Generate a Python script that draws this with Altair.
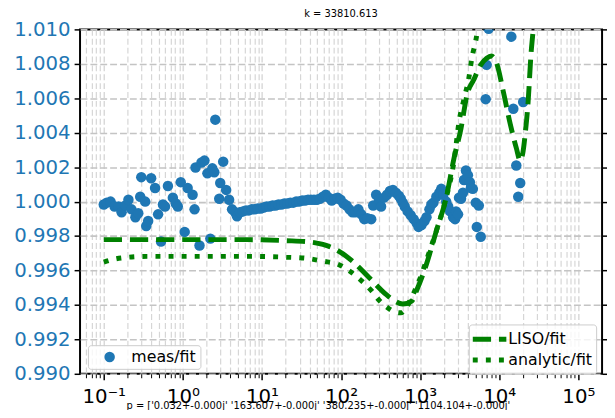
import json
import altair as alt
import pandas as pd

# ---------------- data ----------------
SCATTER_X = [0.1, 0.109, 0.122, 0.137, 0.154, 0.168, 0.188, 0.205, 0.224, 0.251,
             0.273, 0.289, 0.298, 0.334, 0.344, 0.364, 0.397, 0.445, 0.486, 0.529,
             0.560, 0.594, 0.647, 0.747, 0.814, 0.863, 0.940, 1.054, 1.149, 1.327,
             1.405, 1.446, 1.623, 1.719, 1.874, 2.042, 2.226, 2.357, 2.497, 2.570,
             2.883, 2.967, 3.234, 3.525, 3.842, 4.188, 4.565, 4.835,
             5.270, 5.744, 6.262, 6.826, 7.439, 8.110, 8.840, 9.634, 10.50, 11.45,
             12.48, 13.60, 14.83, 16.16, 17.62, 19.20, 20.93, 22.81, 24.86, 27.10,
             29.54, 32.20, 35.10, 38.26, 41.70, 45.46, 49.55, 54.01, 58.87, 64.17,
             69.95, 76.24, 83.10, 90.58, 98.72, 107.6, 117.3, 127.9, 139.4, 151.9,
             165.6, 180.5, 196.8, 214.5, 240.6, 254.8, 277.7, 302.7, 320.6, 349.5,
             380.9, 415.3, 452.6, 493.3, 537.8, 569.4, 603.1, 638.9, 696.3, 759.2,
             827.6, 902.0, 955.0, 1041, 1135, 1202, 1310, 1388, 1470, 1602,
             1747, 1849, 1959, 2135, 2261, 2395, 2611, 2765, 2846, 3014,
             3102, 3285, 3479, 3581, 3793, 4017, 4255, 4379, 4638, 5055,
             5203, 5510, 5836, 6739, 6934, 7344, 14220, 15060, 16420, 17390,
             18420, 20070]
SCATTER_Y = [0.99983, 0.99994, 1.00000, 0.99972, 0.99972, 0.99938, 0.99977, 1.00011, 0.99955, 0.99909,
             0.99932, 1.00028, 1.00142, 1.00000, 0.99858, 0.99887, 1.00136, 1.00079, 0.99926, 0.99768,
             0.99983, 0.99972, 1.00091, 1.00023, 0.99989, 0.99972, 1.00113, 0.99824, 1.00079, 1.00040,
             0.99955, 1.00198, 0.99745, 1.00227, 1.00238, 1.00164, 0.99785, 1.00193, 1.00170, 1.00476,
             1.00017, 1.00108, 1.00232, 1.00068, 1.00011, 0.99955, 0.99938, 0.99915,
             0.99938, 0.99943, 0.99949, 0.99949, 0.99955, 0.99955, 0.99960, 0.99960, 0.99966, 0.99972,
             0.99972, 0.99977, 0.99977, 0.99983, 0.99983, 0.99989, 0.99989, 0.99994, 0.99994, 1.00000,
             1.00000, 1.00006, 1.00006, 1.00011, 1.00011, 1.00011, 1.00011, 1.00017, 1.00028, 1.00040,
             1.00023, 1.00006, 1.00017, 1.00023, 1.00011, 0.99989, 0.99977, 0.99955, 0.99938, 0.99938,
             0.99955, 0.99926, 0.99898, 0.99904, 0.99898, 0.99977, 1.00040, 1.00011, 0.99972, 1.00023,
             1.00040, 1.00062, 1.00068, 1.00051, 1.00034, 1.00017, 0.99994, 0.99972, 0.99943, 0.99921,
             0.99898, 0.99875, 0.99853, 0.99864, 0.99887, 0.99909, 0.99955, 0.99983, 0.99994, 1.00028,
             1.00051, 1.00074, 1.00040, 1.00000, 0.99972, 0.99943, 0.99909, 0.99898, 0.99943, 0.99926,
             1.00023, 1.00017, 1.00051, 1.00125, 1.00181, 1.00153, 1.00113, 1.00079, 1.00074, 0.99994,
             0.99853, 0.99977, 0.99796, 1.00595, 1.00794, 1.01004, 1.00958, 1.00539, 1.00210, 1.00028,
             1.00108, 1.00578]

LISO_X = [0.1, 0.364, 1.532, 6.444, 20.33, 36.12, 58.87, 85.53, 139.4, 227.2,
          370.2, 479.3, 603.1, 781.3, 902.0, 1202, 1602, 2135, 2687, 3285,
          3904, 4773, 5836, 6934, 8007, 9241, 11300, 13820, 16420, 18420,
          20070, 21260, 23170, 25260, 26750, 29150]
LISO_Y = [0.99779, 0.99779, 0.99779, 0.99779, 0.99773, 0.99768, 0.99751, 0.99722, 0.99654, 0.99558,
          0.99461, 0.99422, 0.99405, 0.99422, 0.99484, 0.99637, 0.99830, 1.00023, 1.00255, 1.00425,
          1.00618, 1.00709, 1.00794, 1.00833, 1.00845, 1.00805, 1.00635, 1.00448, 1.00312, 1.00238,
          1.00295, 1.00391, 1.00578, 1.00862, 1.00992, 1.01259]

ANALYTIC_X = [0.1, 0.1333, 0.205, 0.364, 1.532, 6.444, 20.33, 36.12, 58.87, 90.58,
              127.9, 180.5, 240.6, 302.7, 392.0, 479.3, 569.4, 676.6, 804.1, 983.1,
              1202, 1602, 2135, 2687, 3102, 3581, 4133, 4506, 5055, 5670]
ANALYTIC_Y = [0.99648, 0.99665, 0.99677, 0.99682, 0.99682, 0.99682, 0.99677, 0.99671, 0.99654, 0.99637,
              0.99597, 0.99541, 0.99484, 0.99427, 0.99382, 0.99359, 0.99354, 0.99388, 0.99456, 0.99546,
              0.99660, 0.99830, 1.00023, 1.00238, 1.00464, 1.00595, 1.00720, 1.00833, 1.00936, 1.01077]

X_TICKS = [0.1, 1, 10, 100, 1000, 10000, 100000]
X_TICK_LABELS = ["10\u207b\u00b9", "10\u2070", "10\u00b9", "10\u00b2", "10\u00b3", "10\u2074", "10\u2075"]
MINOR_MANTISSA = [2, 3, 4, 5, 6, 7, 8, 9]
MINOR_DECADES = [0.01, 0.1, 1, 10, 100, 1000, 10000, 100000]
Y_TICKS = [0.990, 0.992, 0.994, 0.996, 0.998, 1.000, 1.002, 1.004, 1.006, 1.008, 1.010]

TITLE = "k = 33810.613"
P_LINES = ["p = ['0.032+-0.000j' '163.607+-0.000j' '380.235+-0.000j' '1104.104+-0.000j'",
           "'1779.746+-2576.944j' '1779.746+2576.944j' '6897.589+-0.000j']"]

SERIES_MEAS = "meas/fit"
SERIES_LINES = ["LISO/fit", "analytic/fit"]

# ---------------- tables ----------------
sdf = pd.DataFrame({"x": SCATTER_X, "y": SCATTER_Y, "series": SERIES_MEAS})
ldf = pd.concat([
    pd.DataFrame({"x": LISO_X, "y": LISO_Y, "series": SERIES_LINES[0]}),
    pd.DataFrame({"x": ANALYTIC_X, "y": ANALYTIC_Y, "series": SERIES_LINES[1]}),
])

minor_ticks = [m * d for d in MINOR_DECADES for m in MINOR_MANTISSA if 0.05 <= m * d <= 2.0e5]

FONT = "DejaVu Sans"
xscale = alt.Scale(type="log", domain=[0.0501, 199526], nice=False)
yscale = alt.Scale(domain=[0.99, 1.01], nice=False, zero=False)
label_expr = json.dumps(X_TICK_LABELS, ensure_ascii=False) + "[round(log(datum.value)/LN10)+1]"

GRID_COLOR = "#c4c4c4"

scatter = alt.Chart(sdf).mark_circle(size=113, opacity=1, clip=True).encode(
    x=alt.X("x:Q", scale=xscale, axis=alt.Axis(
        orient="bottom", values=minor_ticks, labels=False, tickSize=4, tickWidth=1, grid=True,
        gridDash=[6, 3], gridColor="#d6d6d6", gridWidth=1.2, domain=False, title=None)),
    y=alt.Y("y:Q", scale=yscale, axis=alt.Axis(
        orient="right", values=Y_TICKS, labels=False, tickSize=6, grid=False,
        domain=False, title=None)),
    color=alt.Color("series:N", scale=alt.Scale(domain=[SERIES_MEAS], range=["#1f77b4"]),
                    legend=alt.Legend(
                        title=None, orient="none", legendX=8, legendY=320,
                        symbolType="circle", symbolSize=113, symbolStrokeWidth=0,
                        symbolOffset=10, labelOffset=14,
                        labelFontSize=16, labelFont=FONT, labelColor="black",
                        fillColor="rgba(255,255,255,0.8)", strokeColor="#cccccc",
                        cornerRadius=3, padding=4)),
)

lines = alt.Chart(ldf).mark_line(strokeWidth=5, color="green", clip=True,
                                 interpolate="monotone", strokeCap="butt").encode(
    x=alt.X("x:Q", scale=xscale, axis=alt.Axis(
        orient="bottom", values=X_TICKS, labelExpr=label_expr, labelFontSize=20, labelFont=FONT,
        labelColor="black", labelPadding=7, tickSize=6, grid=True,
        gridDash=[6, 3], gridColor="#d0d0d0", gridWidth=1.2, domain=False,
        title=P_LINES, titleFont=FONT, titleFontSize=10, titleFontWeight="normal",
        titleColor="black", titleX=241, titleY=35, titleAlign="center",
        titleBaseline="alphabetic", titleLineHeight=13)),
    y=alt.Y("y:Q", scale=yscale, axis=alt.Axis(
        orient="left", values=Y_TICKS, format=".3f", labelFontSize=20, labelFont=FONT,
        labelColor="#1f77b4", labelPadding=4, tickSize=6, grid=True,
        gridDash=[7, 3], gridColor=GRID_COLOR, gridWidth=1.6, domain=False, title=None)),
    strokeDash=alt.StrokeDash("series:N", scale=alt.Scale(domain=SERIES_LINES,
                                                          range=[[18.5, 8], [5, 8.25]]),
                              sort=SERIES_LINES,
                              legend=alt.Legend(
                                  title=None, orient="none", legendX=394, legendY=299,
                                  symbolType="M-2,0L2,0", symbolSize=289, symbolStrokeWidth=5,
                                  symbolStrokeColor="green", symbolFillColor="transparent",
                                  symbolOffset=6, labelOffset=8, rowPadding=0,
                                  labelFontSize=16, labelFont=FONT, labelColor="black",
                                  fillColor="rgba(255,255,255,0.8)", strokeColor="#cccccc",
                                  cornerRadius=3, padding=4)),
)

chart = alt.layer(scatter, lines).resolve_scale(
    x="shared", y="shared", color="independent", strokeDash="independent"
).resolve_axis(
    x="independent", y="independent"
).resolve_legend(
    color="independent", strokeDash="independent"
).properties(
    width=529, height=349,
    title=alt.TitleParams(TITLE, fontSize=10, font=FONT, fontWeight="normal",
                          color="black", anchor="middle", frame="group",
                          baseline="bottom", offset=8, dy=17),
    padding={"left": 73, "top": 19, "right": 5, "bottom": 34},
    autosize=alt.AutoSizeParams(type="none"),
).configure_view(
    stroke="black", strokeWidth=2
).configure_axis(
    tickColor="black", tickWidth=1.5
)

chart.save("out.html", embed_options={"renderer": "svg", "actions": False})
